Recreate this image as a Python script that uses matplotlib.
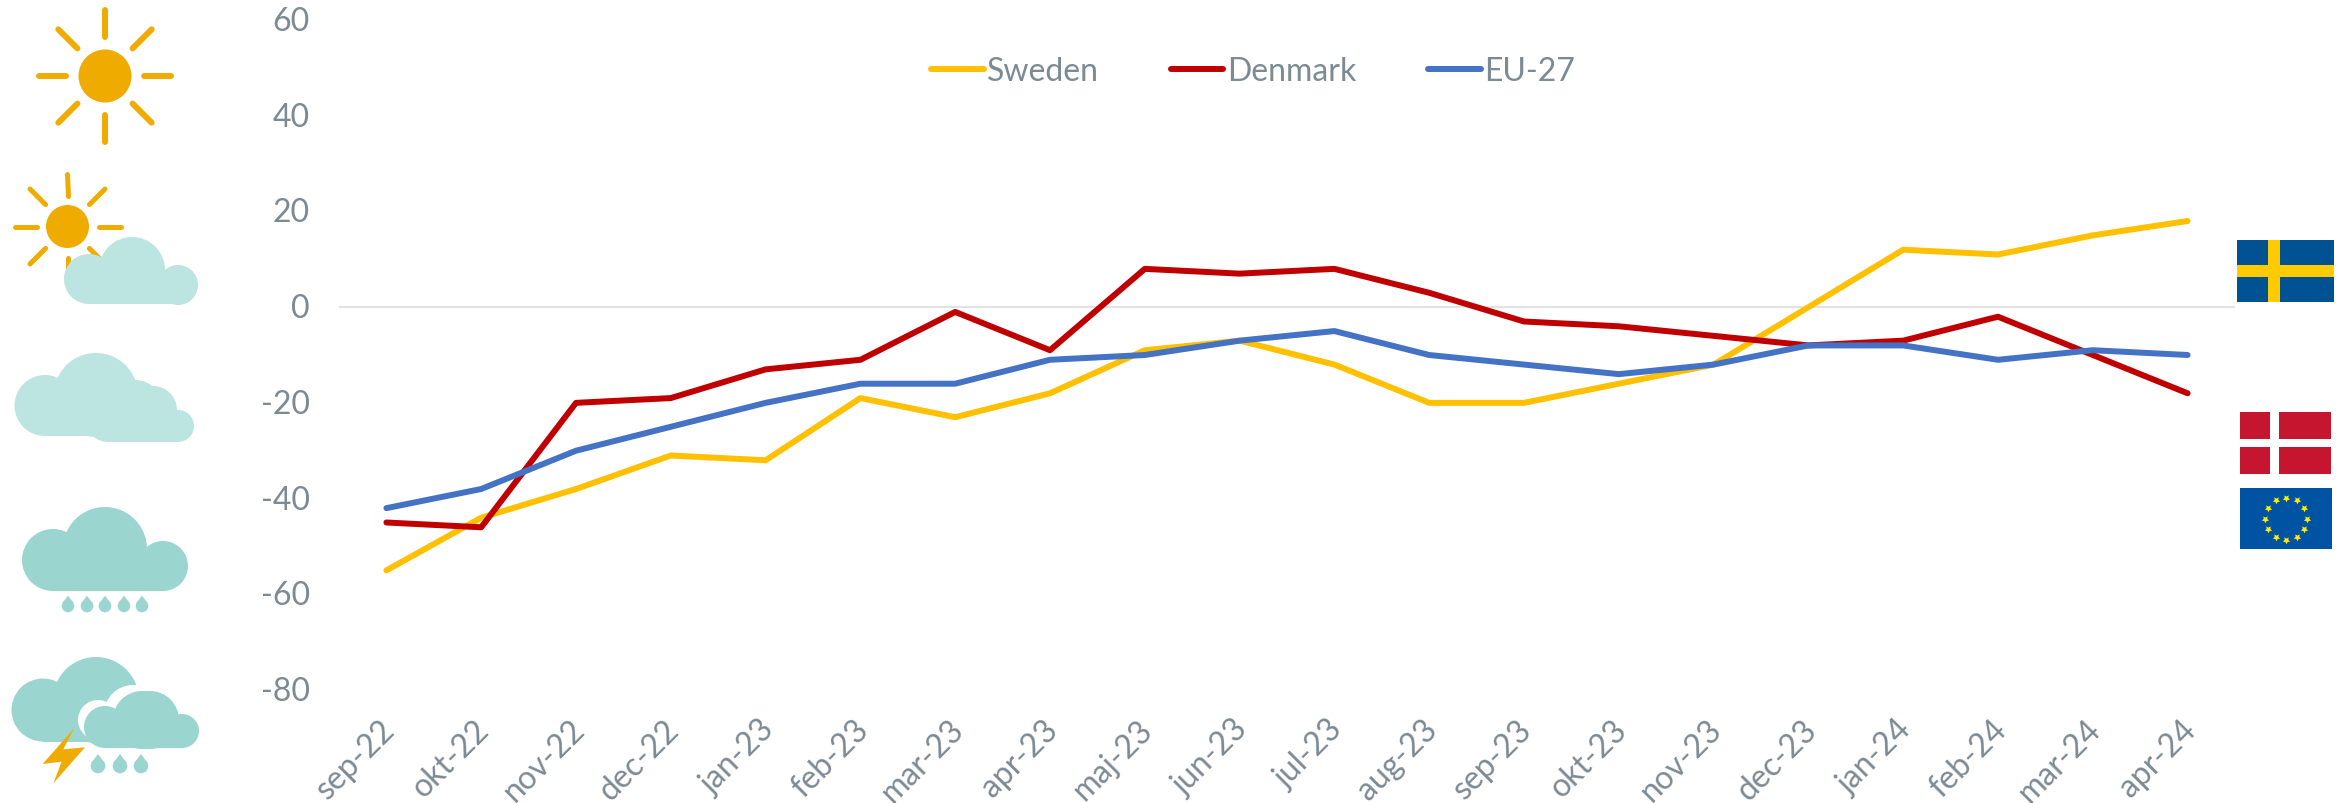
#!/usr/bin/env python3
# -*- coding: utf-8 -*-
import numpy as np
import matplotlib
matplotlib.use("Agg")
import matplotlib.pyplot as plt
from matplotlib.patches import Circle, Rectangle, Polygon
from matplotlib.transforms import IdentityTransform, ScaledTranslation

# Data ========================================================================
months = ["sep-22", "okt-22", "nov-22", "dec-22", "jan-23", "feb-23", "mar-23",
          "apr-23", "maj-23", "jun-23", "jul-23", "aug-23", "sep-23", "okt-23",
          "nov-23", "dec-23", "jan-24", "feb-24", "mar-24", "apr-24"]
sweden = [-55, -44, -38, -31, -32, -19, -23, -18, -9, -7, -12, -20, -20, -16,
          -12, 0, 12, 11, 15, 18]
denmark = [-45, -46, -20, -19, -13, -11, -1, -9, 8, 7, 8, 3, -3, -4, -6, -8,
           -7, -2, -10, -18]
eu27 = [-42, -38, -30, -25, -20, -16, -16, -11, -10, -7, -5, -10, -12, -14,
        -12, -8, -8, -11, -9, -10]
yticks = [60, 40, 20, 0, -20, -40, -60, -80]

W, H = 2343, 804
GREY = "#7C8A93"
SUN = "#F0AB00"
LIGHT = "#BCE4E0"
TEAL = "#9BD5D0"

plt.rcParams['font.family'] = ['Lato', 'DejaVu Sans']
plt.rcParams['lines.solid_capstyle'] = 'round'
plt.rcParams['axes.unicode_minus'] = False

fig = plt.figure(figsize=(W / 100, H / 100), dpi=100)

# Overlay in pixel coordinates for the icons and flags
deco = fig.add_axes([0, 0, 1, 1])
deco.set_xlim(0, W)
deco.set_ylim(H - 1, -1)
deco.axis('off')

ax = fig.add_axes([339 / W, 1 - 691 / H, (2235 - 339) / W, (691 - 21) / H])
ax.patch.set_alpha(0)

# Chart =======================================================================
x = np.arange(len(months))
ax.axhline(0, color="#E2E4E4", lw=1.5, zorder=1)
ax.plot(x, sweden, color="#FFC000", lw=4.3, label="Sweden", zorder=3)
ax.plot(x, denmark, color="#C00000", lw=4.3, label="Denmark", zorder=3)
ax.plot(x, eu27, color="#4472C4", lw=4.3, label="EU-27", zorder=3)
ax.set_xlim(-0.5, len(months) - 0.5)
ax.set_ylim(-80, 60)
ax.set_yticks(yticks)
ax.set_xticks(x)
ax.set_xticklabels(months, rotation=45, ha='right', rotation_mode='anchor')
ax.tick_params(axis='both', length=0, labelsize=23, labelcolor=GREY)
ax.tick_params(axis='y', pad=21)
ax.tick_params(axis='x', pad=17)
shift = ScaledTranslation(-7 / 100, 0, fig.dpi_scale_trans)
for lab in ax.get_xticklabels():
    lab.set_transform(lab.get_transform() + shift)
shift_y = ScaledTranslation(0, 2 / 100, fig.dpi_scale_trans)
for lab in ax.get_yticklabels():
    lab.set_transform(lab.get_transform() + shift_y)
for s in ax.spines.values():
    s.set_visible(False)

ax.legend(loc='center left', bbox_to_anchor=(931, H - 72),
          bbox_transform=IdentityTransform(), ncol=3, frameon=False, fontsize=23,
          labelcolor=GREY, borderpad=0, borderaxespad=0, handlelength=1.65,
          handletextpad=0.1, columnspacing=2.25)


# Icons =======================================================================
def sun(cx, cy, r, r1, r2, lw):
    deco.add_patch(Circle((cx, cy), r, color=SUN, lw=0))
    for a in np.deg2rad(np.arange(0, 360, 45)):
        deco.plot([cx + r1 * np.cos(a), cx + r2 * np.cos(a)],
                  [cy + r1 * np.sin(a), cy + r2 * np.sin(a)],
                  color=SUN, lw=lw, zorder=0.5)


def blob(circles, rects, color, z=1):
    for (cx, cy, r) in circles:
        deco.add_patch(Circle((cx, cy), r, color=color, lw=0, zorder=z))
    for (x0, y0, x1, y1) in rects:
        deco.add_patch(Rectangle((x0, y0), x1 - x0, y1 - y0, color=color, lw=0, zorder=z))


def drop(cx, cy, r, color):
    deco.add_patch(Circle((cx, cy), r, color=color, lw=0))
    deco.add_patch(Polygon([(cx - r * 0.92, cy - r * 0.4), (cx, cy - r * 1.65),
                            (cx + r * 0.92, cy - r * 0.4)], color=color, lw=0))


sun(105, 76, 26.5, 39, 66, 4.3)
sun(67.5, 226.5, 21.5, 31, 53, 3.6)
blob([(89, 279, 25), (132, 270, 33), (178, 285, 20)],
     [(89, 279, 178, 304)], LIGHT)
blob([(45, 405.5, 30.5), (96, 395, 42), (135, 408, 28), (153, 410, 24),
      (178, 426, 16), (108, 420, 22)],
     [(45, 405, 150, 436), (108, 426, 178, 442)], LIGHT)
blob([(53, 560, 31), (105, 549, 42), (163, 566, 25)],
     [(53, 560, 163, 591)], TEAL)
for dx in [68, 87, 105, 124, 142]:
    drop(dx, 606, 6.3, TEAL)

blob([(43, 710, 31.5), (96, 700, 43)], [(43, 710, 130, 742)], TEAL)
blob([(98, 720, 20), (133, 714, 29)], [(98, 720, 140, 748)], "white", z=1.1)
blob([(105, 727, 21), (142, 720, 29), (150, 720, 29), (182, 731, 17)],
     [(105, 727, 182, 748)], TEAL, z=1.2)
deco.add_patch(Polygon(np.array([(222, 985), (190, 1048), (255, 1042), (160, 1150),
                                 (185, 1085), (128, 1092)]) / 3 + [0, 400],
                       color=SUN, lw=0, zorder=1.3))
for dx in [98, 120, 141]:
    drop(dx, 766, 7.3, TEAL)

# Flags =======================================================================
deco.add_patch(Rectangle((2237, 240), 97, 62, color="#005293", lw=0))
deco.add_patch(Rectangle((2268, 240), 12, 62, color="#FECB00", lw=0))
deco.add_patch(Rectangle((2237, 265), 97, 12, color="#FECB00", lw=0))

deco.add_patch(Rectangle((2240, 412), 91, 62, color="#C5152F", lw=0))
deco.add_patch(Rectangle((2270, 412), 9, 62, color="white", lw=0))
deco.add_patch(Rectangle((2240, 439), 91, 8, color="white", lw=0))

deco.add_patch(Rectangle((2240, 488), 92, 61, color="#0052A3", lw=0))
ang = np.deg2rad(np.arange(0, 360, 30))
deco.scatter(2286 + 21 * np.cos(ang), 518.5 + 21 * np.sin(ang), marker=(5, 1, 180),
             s=30, color="#FFED00", lw=0, zorder=2)

fig.savefig("out.png", dpi=100)
